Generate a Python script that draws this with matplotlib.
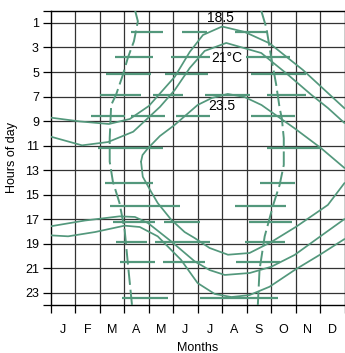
import numpy as np
import matplotlib.pyplot as plt

plt.rcParams['font.family'] = ['Liberation Sans', 'DejaVu Sans']

months = ['J', 'F', 'M', 'A', 'M', 'J', 'J', 'A', 'S', 'O', 'N', 'D']
hour_ticks = list(range(1, 24, 2))

# contour 18.5 (outer)
c185_top_m = [0, 1.19, 2.38, 3.23, 4.01, 5.07, 5.68, 6.22, 7.00, 7.92, 8.94, 10.30, 12.0]
c185_top_h = [8.72, 9.03, 9.24, 8.83, 7.77, 5.38, 3.36, 1.98, 1.29, 1.73, 2.66, 4.83, 7.96]
c185_bot_m = [0, 0.71, 1.81, 3.02, 3.64, 4.37, 5.32, 6.00, 6.70, 7.38, 8.12, 8.94, 9.96, 10.98, 12.0]
c185_bot_h = [18.32, 18.40, 18.05, 17.53, 17.64, 18.40, 20.31, 22.21, 23.10, 23.35, 23.19, 22.51, 21.15, 19.92, 18.62]

# contour 21
c21_top_m = [0, 1.28, 2.34, 3.37, 4.46, 5.07, 5.68, 6.29, 7.17, 8.60, 9.69, 10.64, 11.32, 12.0]
c21_top_h = [10.27, 10.98, 10.71, 9.87, 7.85, 6.46, 4.67, 3.28, 2.63, 3.45, 5.22, 6.85, 7.93, 9.16]
c21_bot_m = [0, 1.40, 2.81, 3.44, 3.97, 4.92, 5.88, 6.49, 7.11, 8.13, 9.01, 9.96, 10.98, 12.0]
c21_bot_h = [17.58, 17.11, 16.77, 16.82, 17.31, 18.81, 20.44, 21.15, 21.55, 21.39, 20.88, 19.92, 18.45, 16.99]

# contour 23.5 (inner)
c235_top_m = [3.69, 3.75, 3.97, 4.46, 5.06, 6.00, 6.58, 7.23, 7.92, 8.61, 9.96, 11.05, 12.0]
c235_top_h = [12.31, 11.77, 11.22, 10.22, 9.32, 7.69, 7.12, 6.79, 7.04, 7.69, 9.59, 11.22, 12.83]
c235_bot_m = [3.69, 3.76, 4.10, 4.37, 4.92, 5.47, 5.88, 6.49, 7.24, 8.12, 9.01, 10.03, 11.32, 12.0]
c235_bot_h = [12.31, 13.54, 14.76, 15.68, 17.04, 18.05, 18.54, 19.35, 19.90, 19.76, 18.86, 17.61, 15.84, 14.05]

# dashed boundaries
dash_l_m = [3.45, 3.56, 3.40, 3.15, 2.95, 2.67, 2.47, 2.41, 2.41, 2.54, 2.81, 3.02, 3.15, 3.32]
dash_l_h = [0, 0.86, 2.49, 3.85, 5.22, 6.85, 7.69, 10.40, 12.31, 13.94, 15.68, 17.86, 20.58, 24]
dash_r_m = [8.60, 8.81, 9.01, 9.21, 9.35, 9.44, 9.52, 9.52, 9.35, 9.10, 8.74, 8.53, 8.46]
dash_r_h = [0, 1.41, 3.85, 6.03, 7.93, 8.77, 10.40, 12.58, 14.21, 15.76, 18.40, 21.12, 24]

# horizontal bars: hour -> month spans
bar_hours = [1.73, 3.81, 5.16, 6.90, 8.55, 11.22, 14.08, 15.89, 17.27, 18.86, 20.52, 23.43]
bar_spans = [
    [(3.29, 4.58), (5.35, 6.37), (7.51, 8.86)],
    [(2.61, 4.17), (4.92, 6.49), (7.99, 9.76)],
    [(2.27, 4.10), (4.65, 6.42), (8.19, 10.41)],
    [(2.01, 3.70), (4.17, 5.39), (6.29, 8.13), (8.82, 10.41)],
    [(1.66, 3.03), (3.29, 4.66), (5.13, 6.49), (8.17, 9.96)],
    [(1.93, 4.58), (8.82, 11.06)],
    [(2.21, 4.17), (8.53, 9.96)],
    [(2.42, 5.27), (7.51, 9.63)],
    [(2.54, 4.25), (4.62, 6.09), (8.08, 9.84)],
    [(2.68, 3.95), (4.27, 6.49), (7.94, 9.59)],
    [(2.83, 4.27), (4.60, 6.29), (7.58, 9.35)],
    [(2.91, 4.78), (6.09, 9.27)],
]

labels = ['18.5', '21°C', '23.5']
label_m = [6.94, 7.21, 7.0]
label_h = [0.59, 3.85, 7.77]

green = '#53987c'

fig = plt.figure(figsize=(3.45, 3.53), dpi=100)
ax = fig.add_axes([50.7 / 345, 48 / 353, 293.8 / 345, 294.3 / 353])

# grid
for m in range(1, 12):
    ax.axvline(m, color='#333333', lw=0.9, zorder=1)
for h in hour_ticks:
    ax.axhline(h, color='#333333', lw=0.9, zorder=1)

for mm, hh in [(c185_top_m, c185_top_h), (c185_bot_m, c185_bot_h),
               (c21_top_m, c21_top_h), (c21_bot_m, c21_bot_h),
               (c235_top_m, c235_top_h), (c235_bot_m, c235_bot_h)]:
    ax.plot(mm, hh, color=green, lw=1.25, zorder=3, solid_capstyle='round')

for mm, hh in [(dash_l_m, dash_l_h), (dash_r_m, dash_r_h)]:
    ax.plot(mm, hh, color=green, lw=1.4, dashes=(8, 2.5), zorder=3)

for h, spans in zip(bar_hours, bar_spans):
    for a, b in spans:
        ax.plot([a, b], [h, h], color=green, lw=1.6, zorder=3, solid_capstyle='butt')

for t, m, h in zip(labels, label_m, label_h):
    ax.text(m, h, t, fontsize=10, ha='center', va='center', zorder=4)

ax.set_xlim(0, 12)
ax.set_ylim(24, 0)
ax.set_xticks(range(13))
ax.set_xticklabels([])
ax.set_xticks(np.arange(12) + 0.5, minor=True)
ax.set_xticklabels(months, minor=True, fontsize=9)
ax.tick_params(axis='x', which='major', length=5.5, width=0.9, direction='out')
ax.tick_params(axis='x', which='minor', length=0, pad=14)
ax.set_yticks([0] + hour_ticks + [24])
ax.set_yticklabels([''] + [str(h) for h in hour_ticks] + [''], fontsize=9)
ax.tick_params(axis='y', length=5.5, width=0.9, pad=3)
for s in ax.spines.values():
    s.set_linewidth(1.0)
ax.set_xlabel('Months', fontsize=9, labelpad=4)
ax.set_ylabel('Hours of day', fontsize=9, labelpad=5)

fig.savefig('out.png', dpi=100)
